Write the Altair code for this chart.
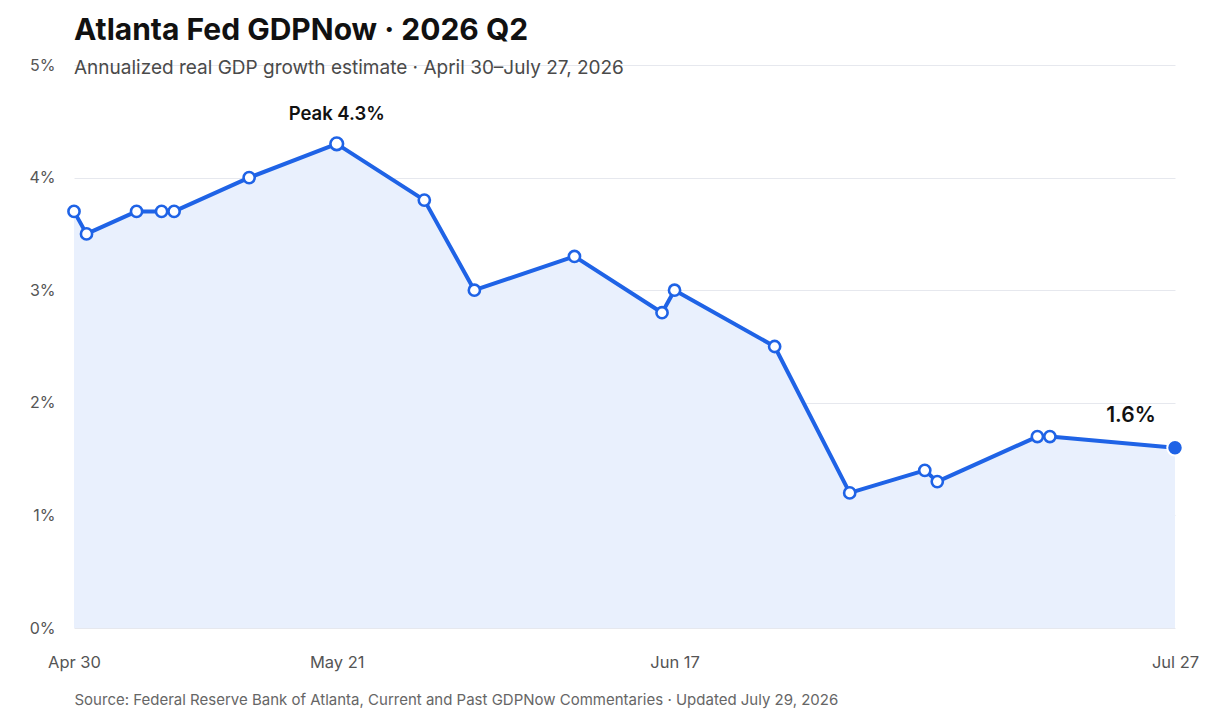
import altair as alt
import pandas as pd

dates = ["2026-04-30", "2026-05-01", "2026-05-05", "2026-05-07", "2026-05-08",
         "2026-05-14", "2026-05-21", "2026-05-28", "2026-06-01", "2026-06-09",
         "2026-06-16", "2026-06-17", "2026-06-25", "2026-07-01", "2026-07-07",
         "2026-07-08", "2026-07-16", "2026-07-17", "2026-07-27"]
values = [3.7, 3.5, 3.7, 3.7, 3.7, 4.0, 4.3, 3.8, 3.0, 3.3,
          2.8, 3.0, 2.5, 1.2, 1.4, 1.3, 1.7, 1.7, 1.6]

peak_date = ["2026-05-21"]
peak_value = [4.3]
peak_label = ["Peak 4.3%"]
last_date = ["2026-07-27"]
last_value = [1.6]
last_label = ["1.6%"]

tick_dates = [(2026, 4, 30), (2026, 5, 21), (2026, 6, 17), (2026, 7, 27)]

title_text = "Atlanta Fed GDPNow · 2026 Q2"
subtitle_text = "Annualized real GDP growth estimate · April 30–July 27, 2026"
source_text = "Source: Federal Reserve Bank of Atlanta, Current and Past GDPNow Commentaries · Updated July 29, 2026"

BLUE = "#1f63e6"
FONT = "Inter"

df = pd.DataFrame({"date": dates, "value": values})
df_hist = df.iloc[:-1]
df_peak = pd.DataFrame({"date": peak_date, "value": peak_value, "label": peak_label})
df_last = pd.DataFrame({"date": last_date, "value": last_value, "label": last_label})

xscale = alt.Scale(type="utc", domain=[alt.DateTime(year=2026, month=4, date=30, utc=True),
                                       alt.DateTime(year=2026, month=7, date=27, utc=True)])
yscale = alt.Scale(domain=[0, 5])

xaxis = alt.Axis(
    values=[alt.DateTime(year=y, month=m, date=d, utc=True) for (y, m, d) in tick_dates],
    format="%b %d", labelFlush=False, grid=False, domain=False, ticks=False,
    labelFontSize=16.5, labelColor="#555555", labelFont=FONT, labelPadding=26,
    title=source_text, titleAnchor="start", titleFontSize=15, titleFontWeight="normal",
    titleColor="#666666", titleFont=FONT, titlePadding=22,
)
yaxis = alt.Axis(
    values=[0, 1, 2, 3, 4, 5], format=".0f", labelExpr="datum.label + '%'",
    domain=False, ticks=False, grid=True, gridColor="#e6e8ee", gridWidth=1,
    labelFontSize=16, labelColor="#555555", labelFont=FONT, labelPadding=19, title=None,
)

base = alt.Chart(df)
x = alt.X("date:T", scale=xscale, axis=xaxis)
y = alt.Y("value:Q", scale=yscale, axis=yaxis)
xs = alt.X("date:T", scale=xscale)
ys = alt.Y("value:Q", scale=yscale)

area = base.mark_area(color="#e9f0fd", opacity=1).encode(x=x, y=y)
line = base.mark_line(color=BLUE, strokeWidth=4, strokeJoin="round").encode(x=xs, y=ys)
pts = alt.Chart(df_hist).mark_point(filled=True, fill="white", stroke=BLUE, strokeWidth=2.6,
                                    size=125, opacity=1).encode(x=xs, y=ys)
peak_pt = alt.Chart(df_peak).mark_point(filled=True, fill="white", stroke=BLUE, strokeWidth=2.6,
                                        size=160, opacity=1).encode(x=xs, y=ys)
last_pt = alt.Chart(df_last).mark_circle(color=BLUE, stroke="white", strokeWidth=2,
                                         size=240, opacity=1).encode(x=xs, y=ys)
peak_txt = alt.Chart(df_peak).mark_text(dy=-30, fontSize=18.5, fontWeight=600, font=FONT,
                                        color="#111111").encode(x=xs, y=ys, text="label:N")
last_txt = alt.Chart(df_last).mark_text(dx=-44, dy=-32, fontSize=21, fontWeight=600, font=FONT,
                                        color="#111111").encode(x=xs, y=ys, text="label:N")

chart = alt.layer(area, line, pts, peak_pt, last_pt, peak_txt, last_txt).properties(
    width=1101, height=563,
    autosize=alt.AutoSizeParams(type="none"),
    padding={"left": 66, "top": 57, "right": 47, "bottom": 92},
    background="white",
    title=alt.TitleParams(
        text=title_text, subtitle=subtitle_text, anchor="start", frame="group",
        fontSize=30, fontWeight=700, font=FONT, color="#111111",
        subtitleFontSize=19, subtitleFont=FONT, subtitleColor="#4a4a4a",
        subtitlePadding=13, offset=-21,
    ),
).configure_view(strokeWidth=0)

chart.save("out.html", embed_options={"renderer": "svg", "actions": False})
